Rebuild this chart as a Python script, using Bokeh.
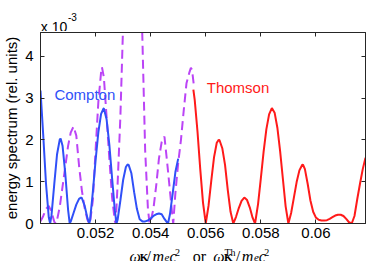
from bokeh.plotting import figure
from bokeh.layouts import column
from bokeh.models import Range1d, FixedTicker, LinearAxis, Label
from bokeh.embed import file_html
from bokeh.resources import INLINE

# values in units of 1e-3 (rel. units)
compton_x = [0.05000, 0.05010, 0.05020, 0.05030, 0.05035, 0.05040, 0.05050, 0.05060, 0.05070, 0.05073,
             0.05080, 0.05090, 0.05100, 0.05106, 0.05110, 0.05120, 0.05130, 0.05140, 0.05147, 0.05150,
             0.05160, 0.05170, 0.05177, 0.05180, 0.05190, 0.05200, 0.05210, 0.05220, 0.05229, 0.05230,
             0.05240, 0.05250, 0.05260, 0.05270, 0.05276, 0.05280, 0.05290, 0.05300, 0.05310, 0.05316,
             0.05320, 0.05330, 0.05340, 0.05350, 0.05360, 0.05370, 0.05380, 0.05390, 0.05400, 0.05410,
             0.05420, 0.05430, 0.05440, 0.05450, 0.05460, 0.05463, 0.05470, 0.05480, 0.05490, 0.05500]
compton_y = [3.18, 2.10, 0.95, 0.15, 0.00, 0.20, 0.94, 1.65, 2.01, 2.03,
             1.86, 1.19, 0.34, 0.00, 0.05, 0.25, 0.45, 0.59, 0.62, 0.61,
             0.43, 0.14, 0.00, 0.08, 0.75, 1.51, 2.18, 2.62, 2.75, 2.75,
             2.49, 1.88, 1.08, 0.30, 0.00, 0.09, 0.55, 1.04, 1.35, 1.41,
             1.40, 1.20, 0.75, 0.35, 0.10, 0.05, 0.05, 0.07, 0.12, 0.18,
             0.22, 0.24, 0.22, 0.11, 0.02, 0.00, 0.22, 0.72, 1.24, 1.55]

thomson_x = [0.05555, 0.05560, 0.05570, 0.05580, 0.05590, 0.05600, 0.05610, 0.05620, 0.05630, 0.05640,
             0.05647, 0.05650, 0.05660, 0.05670, 0.05680, 0.05690, 0.05700, 0.05710, 0.05720, 0.05730,
             0.05740, 0.05750, 0.05760, 0.05770, 0.05779, 0.05790, 0.05800, 0.05810, 0.05820, 0.05830,
             0.05840, 0.05850, 0.05860, 0.05870, 0.05880, 0.05890, 0.05900, 0.05910, 0.05920, 0.05930,
             0.05940, 0.05950, 0.05953, 0.05960, 0.05970, 0.05980, 0.05990, 0.06000, 0.06010, 0.06020,
             0.06030, 0.06040, 0.06050, 0.06060, 0.06070, 0.06080, 0.06090, 0.06100, 0.06110, 0.06120,
             0.06130, 0.06140, 0.06150, 0.06160, 0.06170, 0.06180]
thomson_y = [3.20, 2.95, 2.20, 1.30, 0.50, 0.00, 0.42, 1.02, 1.58, 1.93,
             2.00, 1.99, 1.80, 1.40, 0.80, 0.28, 0.00, 0.16, 0.37, 0.54,
             0.62, 0.56, 0.38, 0.14, 0.00, 0.47, 1.08, 1.71, 2.25, 2.61,
             2.76, 2.65, 2.29, 1.73, 1.07, 0.41, 0.00, 0.25, 0.62, 0.99,
             1.27, 1.40, 1.41, 1.30, 0.95, 0.55, 0.28, 0.14, 0.09, 0.07,
             0.07, 0.08, 0.11, 0.15, 0.19, 0.21, 0.21, 0.18, 0.11, 0.03,
             0.00, 0.18, 0.58, 0.95, 1.30, 1.57]

dashed_x = [0.05000, 0.05010, 0.05020, 0.05030, 0.05040, 0.05050, 0.05055, 0.05060, 0.05070, 0.05080,
            0.05090, 0.05100, 0.05110, 0.05120, 0.05130, 0.05140, 0.05150, 0.05160, 0.05170, 0.05176,
            0.05180, 0.05190, 0.05200, 0.05210, 0.05220, 0.05223, 0.05230, 0.05240, 0.05250, 0.05260,
            0.05270, 0.05273, 0.05280, 0.05290, 0.05300, 0.05310, 0.05320, 0.05330, 0.05340, 0.05350,
            0.05360, 0.05370, 0.05380, 0.05390, 0.05396, 0.05400, 0.05410, 0.05420, 0.05430, 0.05440,
            0.05450, 0.05460, 0.05470, 0.05480, 0.05482, 0.05490, 0.05500, 0.05510, 0.05520, 0.05530,
            0.05540, 0.05546, 0.05550, 0.05556]
dashed_y = [0.05, 0.18, 0.35, 0.42, 0.28, 0.04, 0.00, 0.08, 0.40, 0.88,
            1.36, 1.85, 2.18, 2.32, 2.10, 1.38, 0.80, 0.38, 0.10, 0.00,
            0.03, 0.55, 1.75, 2.90, 3.62, 3.74, 3.50, 2.55, 1.55, 0.62,
            0.05, 0.00, 0.95, 2.55, 4.75, 6.70, 8.60, 9.10, 9.00, 8.30,
            6.80, 4.40, 1.75, 0.35, 0.00, 0.05, 0.35, 0.90, 1.55, 1.95,
            2.08, 1.45, 0.78, 0.10, 0.00, 0.75, 1.45, 2.00, 2.70, 3.35,
            3.60, 3.72, 3.68, 3.35]

x_ticks = [0.052, 0.054, 0.056, 0.058, 0.060]
x_tick_labels = ["0.052", "0.054", "0.056", "0.058", "0.06"]
y_ticks = [0, 1, 2, 3, 4]

BLUE = "#3050F8"
RED = "#FF1A1A"
PURPLE = "#BB44F6"
AX = "#262626"
SANS = "Liberation Sans"
SERIF = "Liberation Serif"
W = 366
XR = Range1d(0.0500, 0.0618)


def strip(h):
    f = figure(width=W, height=h, output_backend="svg", toolbar_location=None,
               x_range=XR, y_range=Range1d(0, h),
               x_axis_type=None, y_axis_type=None,
               min_border_left=34, min_border_right=1, min_border_top=0, min_border_bottom=0)
    f.xgrid.visible = False
    f.ygrid.visible = False
    f.outline_line_color = None
    f.background_fill_color = "white"
    f.border_fill_color = "white"
    return f


def put(f, txt, x, y, fs, font=SANS, style="normal", color="black"):
    f.add_layout(Label(x=x, y=y, text=txt, text_color=color, text_font=font,
                       text_font_size=fs, text_font_style=style, text_baseline="alphabetic"))


# --- top strip: exponent "x 10^-3"
top = strip(31)
put(top, "x 10", 0.05001, 4.3, "14px")
put(top, "-3", 0.05100, 14.3, "10px")

# --- main plot
p = figure(width=W, height=213, output_backend="svg", toolbar_location=None,
           x_range=XR, y_range=Range1d(0, 4.566),
           min_border_left=34, min_border_right=1, min_border_top=1, min_border_bottom=21)
p.xgrid.visible = False
p.ygrid.visible = False
p.outline_line_color = AX
p.outline_line_width = 1
p.background_fill_color = "white"
p.border_fill_color = "white"


def style_axis(ax, ticks):
    ax.ticker = FixedTicker(ticks=ticks)
    ax.major_tick_in = 4
    ax.major_tick_out = 0
    ax.minor_tick_in = 0
    ax.minor_tick_out = 0
    ax.axis_line_color = AX
    ax.major_tick_line_color = AX
    ax.major_label_text_font = SANS
    ax.major_label_text_font_size = "15px"
    ax.major_label_text_color = "black"


xa = p.xaxis[0]
style_axis(xa, x_ticks)
xa.major_label_overrides = {t: s for t, s in zip(x_ticks, x_tick_labels)}
xa.major_label_standoff = 4

ya = p.yaxis[0]
style_axis(ya, y_ticks)
ya.major_label_standoff = 7
ya.axis_label = "energy spectrum (rel. units)"
ya.axis_label_text_font = SANS
ya.axis_label_text_font_size = "15px"
ya.axis_label_text_font_style = "normal"
ya.axis_label_text_color = "black"
ya.axis_label_standoff = 2

for ticks, place in ((x_ticks, "above"), (y_ticks, "right")):
    ax = LinearAxis()
    style_axis(ax, ticks)
    ax.major_label_text_font_size = "0px"
    ax.major_label_standoff = 0
    p.add_layout(ax, place)

p.line(dashed_x, dashed_y, line_color=PURPLE, line_width=2, line_dash="9 5")
p.line(compton_x, compton_y, line_color=BLUE, line_width=2)
p.line(thomson_x, thomson_y, line_color=RED, line_width=2)

put(p, "Compton", 0.050505, 3.08, "15px", color=BLUE)
put(p, "Thomson", 0.056035, 3.26, "15px", color=RED)

# --- bottom strip: x axis label built from pieces
bot = strip(17)
base, sub, sup, sup_th = 5.4, 4.1, 8.8, 9.5
pieces = [
    ("\u03c9", 0.053233, base, "16px", "italic"),
    ("K", 0.053600, sub, "11px", "bold"),
    ("/", 0.053850, base, "16px", "normal"),
    ("m", 0.054070, base, "16px", "italic"),
    ("e", 0.054504, sub, "11px", "italic"),
    ("c", 0.054680, base, "16px", "italic"),
    ("2", 0.054881, sup, "10px", "normal"),
    ("or", 0.055527, base, "16px", "normal"),
    ("\u03c9", 0.056268, base, "16px", "italic"),
    ("Th", 0.056680, sup_th, "10px", "normal"),
    ("K", 0.056660, sub, "11px", "bold"),
    ("/", 0.057090, base, "16px", "normal"),
    ("m", 0.057310, base, "16px", "italic"),
    ("e", 0.057750, sub, "11px", "italic"),
    ("c", 0.057925, base, "16px", "italic"),
    ("2", 0.058125, sup, "10px", "normal"),
]
for txt, xx, yy, fs, st in pieces:
    put(bot, txt, xx, yy, fs, font=SERIF, style=st)

layout = column(top, p, bot, spacing=0)
open("out.html", "w").write(file_html(layout, INLINE))
